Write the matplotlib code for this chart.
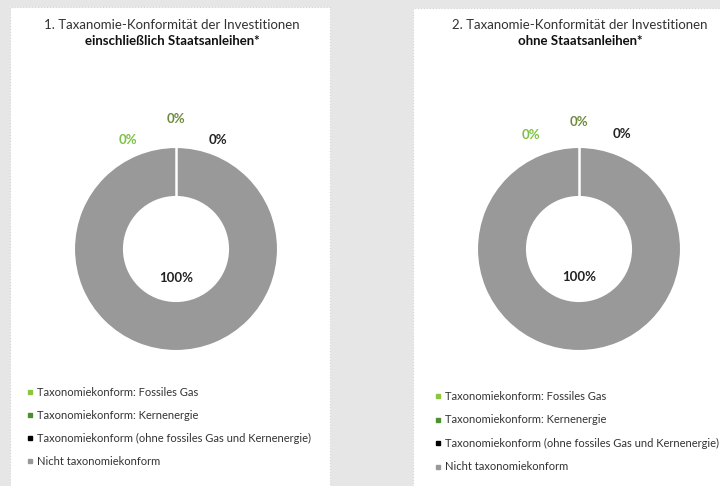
import numpy as np
import matplotlib.pyplot as plt
from matplotlib.patches import Rectangle
from matplotlib.lines import Line2D

plt.rcParams['font.family'] = ['Lato', 'DejaVu Sans']

categories = ["Taxonomiekonform: Fossiles Gas",
              "Taxonomiekonform: Kernenergie",
              "Taxonomiekonform (ohne fossiles Gas und Kernenergie)",
              "Nicht taxonomiekonform"]
values_incl = [0, 0, 0, 100]
values_excl = [0, 0, 0, 100]
colors = ['#8cc63f', '#4e8f2f', '#000000', '#999999']
label_colors = ['#7cc142', '#6e8b3d', '#222222', '#222222']

titles = [("1. Taxanomie-Konformität der Investitionen", "einschließlich Staatsanleihen*"),
          ("2. Taxanomie-Konformität der Investitionen", "ohne Staatsanleihen*")]

W, H = 720, 486
fig = plt.figure(figsize=(W / 100, H / 100), dpi=100)
fig.patch.set_facecolor('#e6e6e6')

# white panels behind the donuts
for x0, x1, y0 in [(10, 330, 7), (413, 722, 8)]:
    fig.add_artist(Rectangle((x0 / W, -0.01), (x1 - x0) / W, 1.01 - y0 / H,
                             transform=fig.transFigure, facecolor='white',
                             edgecolor='#d4d4d4', linestyle=':', linewidth=0.8,
                             zorder=-10))

R = 102
HOLE = 0.51
panels = [
    dict(cx=176, cy=249, vals=values_incl, tcx=172,
         lab_pos=[(-0.47, 1.07), (0.0, 1.27), (0.41, 1.07)], center_dy=-0.28,
         leg_x=26, leg_y=392, leg_gap=23),
    dict(cx=579, cy=249, vals=values_excl, tcx=580,
         lab_pos=[(-0.47, 1.12), (0.0, 1.25), (0.42, 1.13)], center_dy=-0.27,
         leg_x=434, leg_y=396, leg_gap=23.5),
]

for p, (t1, t2) in zip(panels, titles):
    ax = fig.add_axes([(p['cx'] - R) / W, (H - p['cy'] - R) / H, 2 * R / W, 2 * R / H])
    wedges, _ = ax.pie(p['vals'], colors=colors, startangle=90, counterclock=False,
                       radius=1, wedgeprops=dict(width=1 - HOLE, edgecolor='white',
                                                 linewidth=1.5))
    # separator where the zero-sized slices sit
    a = np.deg2rad(wedges[0].theta1)
    ax.plot([HOLE * np.cos(a), np.cos(a)], [HOLE * np.sin(a), np.sin(a)],
            color='white', lw=1.8, solid_capstyle='butt')
    ax.set_xlim(-1, 1)
    ax.set_ylim(-1, 1)
    ax.set_aspect('equal')
    ax.axis('off')

    for v, (dx, dy), c in zip(p['vals'][:3], p['lab_pos'], label_colors[:3]):
        ax.text(dx, dy, f"{v:.0f}%", color=c, fontsize=9.5, fontweight='bold',
                ha='center', va='center')
    ax.text(0, p['center_dy'], f"{p['vals'][3]:.0f}%", color='#222222', fontsize=9.5,
            fontweight='bold', ha='center', va='center')

    fig.text(p['tcx'] / W, 1 - 25 / H, t1, ha='center', va='center', fontsize=9.5,
             color='#333333')
    fig.text(p['tcx'] / W, 1 - 41 / H, t2, ha='center', va='center', fontsize=9.5,
             fontweight='bold', color='#111111')

    for i, (cat, col) in enumerate(zip(categories, colors)):
        y = 1 - (p['leg_y'] + i * p['leg_gap']) / H
        fig.add_artist(Line2D([(p['leg_x'] + 4) / W], [y], marker='s', markersize=3.2,
                              color=col, linestyle='none'))
        fig.text((p['leg_x'] + 11) / W, y, cat, ha='left', va='center', fontsize=8,
                 color='#333333')

fig.savefig("out.png", dpi=100, facecolor=fig.get_facecolor())
